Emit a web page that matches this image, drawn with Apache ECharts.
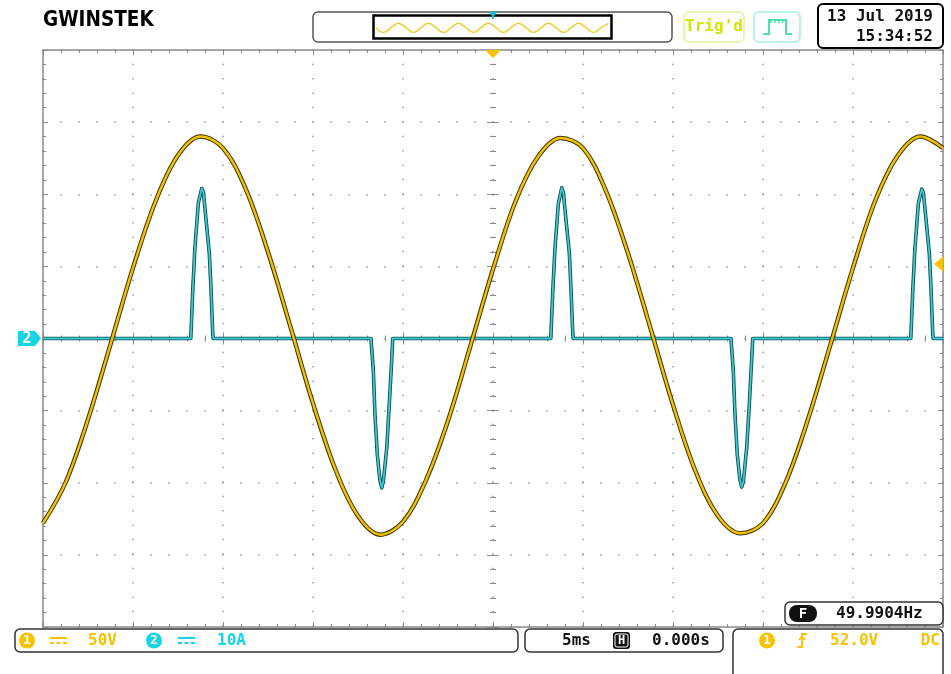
<!DOCTYPE html>
<html>
<head>
<meta charset="utf-8">
<script src="https://cdn.jsdelivr.net/npm/echarts@6/dist/echarts.min.js"></script>
<style>
  html, body { margin: 0; padding: 0; background: #fff; }
  #scope { width: 951px; height: 674px; }
</style>
</head>
<body>
<div id="scope"></div>
<script>
// CH1 voltage (V), one reading every 1.25 ms from -25 ms
let ch1Step = 1.25;
let ch1Volts = [
  -128, -100, -56, -4, 49, 95, 127, 140, 132, 104, 60, 8, -45, -91, -123, -136,
  -127, -99, -57, -5, 48, 95, 126, 139, 132, 103, 59, 7, -46, -92, -123, -135,
  -128, -100, -56, -4, 49, 96, 127, 140, 132
];

// CH2 current (A) at given times (ms)
let ch2Time = [
  -25,
  -16.79, -16.68, -16.56, -16.37, -16.18, -16.09, -15.94, -15.76, -15.67, -15.57, -15.54,
  -6.78, -6.65, -6.56, -6.43, -6.28, -6.18, -6.09, -5.90, -5.76, -5.63, -5.57,
  3.21, 3.32, 3.44, 3.63, 3.82, 3.91, 4.06, 4.24, 4.33, 4.43, 4.46,
  13.22, 13.35, 13.44, 13.57, 13.72, 13.82, 13.91, 14.10, 14.24, 14.37, 14.43,
  23.21, 23.32, 23.44, 23.63, 23.82, 23.91, 24.06, 24.24, 24.33, 24.43, 24.46,
  25
];
let ch2Amps = [
  0,
  0, 6.7, 12.6, 18.8, 20.8, 20.3, 16.4, 11.8, 7.1, 0.7, 0,
  0, -4.4, -10.4, -16.0, -19.7, -20.7, -19.7, -15.1, -9.0, -3.1, 0,
  0, 6.5, 12.4, 18.7, 20.9, 20.2, 16.3, 11.9, 7.0, 0.8, 0,
  0, -4.5, -10.3, -16.1, -19.6, -20.6, -19.8, -15.0, -9.1, -3.0, 0,
  0, 6.6, 12.5, 18.7, 20.7, 20.2, 16.4, 11.8, 7.1, 0.7, 0,
  0
];

// memory overview strip, level every quarter cycle
let overviewLevel = [
  0, -1, 0, 1, 0, -1, 0, 1, 0, -1, 0, 1, 0, -1, 0, 1,
  0, -1, 0, 1, 0, -1, 0, 1, 0, -1, 0, 1, 0, -1, 0, 1
];

let ch1Data = ch1Volts.map((v, i) => [-25 + i * ch1Step, v]);
let ch2Data = ch2Time.map((t, i) => [t, ch2Amps[i]]);

let gridGrey = "#8a8a8a";
let yel = "#f7c300";
let cyn = "#17d4e4";
let ink = "#111";
let mono = '"DejaVu Sans Mono", monospace';

function edgeAxis(extra) {
  return Object.assign({
    gridIndex: 0,
    type: "value",
    axisLine: { show: true, onZero: false, lineStyle: { color: gridGrey, width: 1.5 } },
    axisTick: { show: true, inside: true, length: 5, lineStyle: { color: gridGrey } },
    minorTick: { show: true, splitNumber: 5, length: 3, lineStyle: { color: gridGrey } },
    axisLabel: { show: false },
    splitLine: { show: false },
  }, extra);
}
function centerAxis(extra, inside) {
  return Object.assign({
    gridIndex: 0,
    type: "value",
    axisLine: { show: false, onZero: false },
    axisTick: { show: true, inside: inside, length: 6, lineStyle: { color: gridGrey } },
    minorTick: { show: true, splitNumber: 5, length: 3, lineStyle: { color: gridGrey } },
    axisLabel: { show: false },
    splitLine: { show: false },
  }, extra);
}

let tAxis = { min: -25, max: 25, interval: 5 };
let vAxis = { min: -200, max: 200, interval: 50 };
let aAxis = { min: -40, max: 40, interval: 10 };

function box(x, y, w, h, stroke, lw, fill) {
  return { type: "rect", z: 100, shape: { x: x, y: y, width: w, height: h, r: 5 },
    style: { fill: fill || null, stroke: stroke, lineWidth: lw } };
}
function txt(x, y, s, fill, size, align, weight) {
  return { type: "text", z: 105, x: x, y: y,
    style: { text: s, fill: fill, font: (weight || "bold") + " " + size + "px " + mono,
      align: align || "left", verticalAlign: "middle" } };
}
function badge(cx, cy, color, s) {
  return [
    { type: "circle", z: 100, shape: { cx: cx, cy: cy, r: 8 }, style: { fill: color } },
    { type: "text", z: 105, x: cx, y: cy + 0.5, style: { text: s, fill: "#fff",
      font: "bold 13px " + mono, align: "center", verticalAlign: "middle" } },
  ];
}
function dcSign(x, y, color) {
  return [
    { type: "line", z: 100, shape: { x1: x, y1: y, x2: x + 17, y2: y }, style: { stroke: color, lineWidth: 2 } },
    { type: "line", z: 100, shape: { x1: x, y1: y + 5, x2: x + 17, y2: y + 5 },
      style: { stroke: color, lineWidth: 2, lineDash: [4, 2.5] } },
  ];
}

let graphics = [
  { type: "text", z: 105, x: 43, y: 20, scaleX: 0.84,
    style: { text: "GWINSTEK", fill: "#000", font: 'bold 22px "DejaVu Sans"', verticalAlign: "middle" } },
  box(313, 12, 359, 30, "#555", 1.5),
  { type: "rect", z: 100, shape: { x: 373.5, y: 15.5, width: 238, height: 23 },
    style: { fill: null, stroke: "#000", lineWidth: 2.5 } },
  { type: "polygon", z: 102, shape: { points: [[489, 12], [497, 12], [494, 16], [494, 19], [492, 19], [492, 16]] },
    style: { fill: "#11c4d4" } },
  { type: "polygon", z: 102, shape: { points: [[485, 50], [501, 50], [493, 58]] }, style: { fill: yel } },
  box(684, 12, 60, 30, "#e4f29a", 1.5),
  txt(714, 27, "Trig'd", "#cfe600", 16, "center"),
  box(754, 12, 46, 30, "#a6f0d4", 1.5),
  { type: "polyline", z: 101, shape: { points: [[763, 34], [769, 34], [769, 20], [786, 20], [786, 34], [792, 34]] },
    style: { stroke: "#4fe0aa", lineWidth: 2, fill: null } },
  { type: "line", z: 101, shape: { x1: 770, y1: 22, x2: 785, y2: 22 },
    style: { stroke: "#4fe0aa", lineWidth: 2, lineDash: [1.5, 2.5] } },
  box(818, 4, 125, 44, "#000", 2),
  txt(933, 17, "13 Jul 2019", ink, 16, "right"),
  txt(933, 37, "15:34:52", ink, 16, "right"),

  box(785, 602, 158, 23, "#333", 1.5, "#fff"),
  { type: "rect", z: 101, shape: { x: 789, y: 605, width: 28, height: 17, r: 8 }, style: { fill: ink } },
  txt(803, 614, "F", "#fff", 14, "center"),
  txt(836, 614, "49.9904Hz", ink, 16, "left"),

  box(15, 629, 503, 23, "#333", 1.5),
  ...badge(27, 640.5, yel, "1"),
  ...dcSign(50, 638, yel),
  txt(88, 641, "50V", yel, 16, "left"),
  ...badge(154, 640.5, cyn, "2"),
  ...dcSign(178, 638, cyn),
  txt(217, 641, "10A", cyn, 16, "left"),

  box(525, 629, 198, 23, "#333", 1.5),
  txt(562, 641, "5ms", ink, 16, "left"),
  { type: "rect", z: 101, shape: { x: 613, y: 632, width: 17, height: 17, r: 3 }, style: { fill: ink } },
  { type: "rect", z: 102, shape: { x: 615, y: 634, width: 13, height: 13, r: 2 }, style: { fill: null, stroke: "#fff", lineWidth: 1 } },
  txt(621.5, 641, "H", "#fff", 12, "center"),
  txt(652, 641, "0.000s", ink, 16, "left"),

  box(733, 629, 210, 60, "#333", 1.5),
  ...badge(767, 640.5, yel, "1"),
  { type: "polyline", z: 101, shape: { points: [[797, 647], [802, 647], [802, 634], [807, 634]] },
    style: { stroke: yel, lineWidth: 1.8, fill: null } },
  { type: "polyline", z: 101, shape: { points: [[799, 640], [802, 636], [805, 640]] },
    style: { stroke: yel, lineWidth: 1.5, fill: null } },
  txt(830, 641, "52.0V", yel, 16, "left"),
  txt(940, 641, "DC", yel, 16, "right"),

  { type: "polygon", z: 102, shape: { points: [[18, 331], [35, 331], [41, 338.5], [35, 346], [18, 346]] },
    style: { fill: cyn } },
  txt(27, 339, "2", "#fff", 15, "center"),
  { type: "polygon", z: 102, shape: { points: [[943, 256.5], [943, 271.5], [934, 264]] }, style: { fill: yel } },
];

let scope = echarts.init(document.getElementById("scope"), null, { renderer: "canvas" });

scope.setOption({
  animation: false,
  backgroundColor: "#fff",
  grid: [
    { left: 43, top: 50, width: 900, height: 577, containLabel: false, outerBoundsMode: "none" },
    { left: 376, top: 18.3, width: 232.5, height: 19, containLabel: false, outerBoundsMode: "none" },
  ],
  xAxis: [
    edgeAxis(Object.assign({ position: "bottom",
      splitLine: { show: true, lineStyle: { color: "#9a9a9a", width: 1.5, type: [1.5, 12.9], dashOffset: 0.75 } } }, tAxis)),
    edgeAxis(Object.assign({ position: "top" }, tAxis)),
    centerAxis(Object.assign({ position: "bottom", offset: -288.5 }, tAxis), true),
    centerAxis(Object.assign({ position: "bottom", offset: -288.5 }, tAxis), false),
    { gridIndex: 1, type: "category", boundaryGap: false, show: false,
      data: overviewLevel.map((v, i) => i) },
  ],
  yAxis: [
    edgeAxis(Object.assign({ position: "left",
      splitLine: { show: true, lineStyle: { color: "#9a9a9a", width: 1.5, type: [1.5, 16.5], dashOffset: 0.75 } } }, vAxis)),
    edgeAxis(Object.assign({ position: "right" }, aAxis)),
    centerAxis(Object.assign({ position: "left", offset: -450 }, vAxis), true),
    centerAxis(Object.assign({ position: "left", offset: -450 }, vAxis), false),
    { gridIndex: 1, type: "value", min: -2.1, max: 2.1, show: false },
  ],
  series: [
    { name: "CH2 edge", type: "line", xAxisIndex: 0, yAxisIndex: 1, data: ch2Data, z: 3,
      showSymbol: false, silent: true, lineStyle: { color: "#0d4f55", width: 3.6, join: "round" } },
    { name: "CH2", type: "line", xAxisIndex: 0, yAxisIndex: 1, data: ch2Data, z: 4,
      showSymbol: false, silent: true, lineStyle: { color: "#3cc9cf", width: 1.8, join: "round" } },
    { name: "CH1 edge", type: "line", xAxisIndex: 0, yAxisIndex: 0, data: ch1Data, z: 5, smooth: 0.35,
      showSymbol: false, silent: true, lineStyle: { color: "#3d3300", width: 4.4 } },
    { name: "CH1", type: "line", xAxisIndex: 0, yAxisIndex: 0, data: ch1Data, z: 6, smooth: 0.35,
      showSymbol: false, silent: true, lineStyle: { color: "#f2c100", width: 2.4 } },
    { name: "overview", type: "line", xAxisIndex: 4, yAxisIndex: 4, data: overviewLevel, smooth: 0.5,
      showSymbol: false, silent: true, lineStyle: { color: "#f5c518", width: 1.3 } },
  ],
  graphic: graphics,
});
</script>
</body>
</html>
